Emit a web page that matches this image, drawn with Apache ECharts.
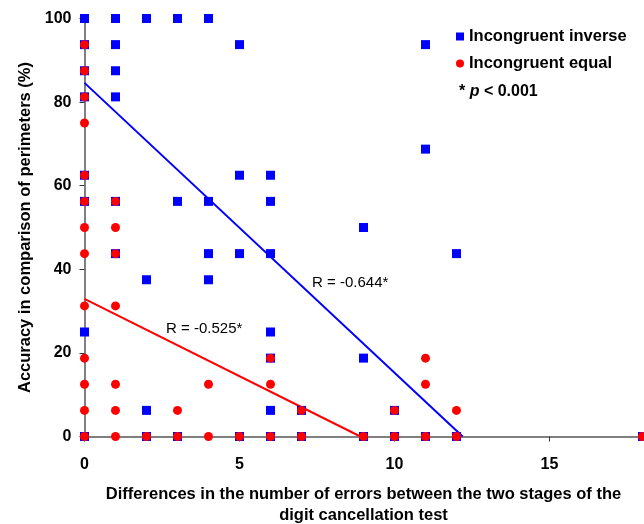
<!DOCTYPE html>
<html>
<head>
<meta charset="utf-8">
<script src="https://cdn.jsdelivr.net/npm/echarts@6/dist/echarts.min.js"></script>
<style>
  html, body { margin: 0; padding: 0; background: #fff; }
  #chart { width: 644px; height: 524px; }
</style>
</head>
<body>
<div id="chart"></div>
<script>
// scatter values: [difference in errors, accuracy %]
const inversePoints = [
  [0, 100], [0, 93.75], [0, 87.5], [0, 81.25], [0, 62.5], [0, 56.25], [0, 25], [0, 0],
  [1, 100], [1, 93.75], [1, 87.5], [1, 81.25], [1, 56.25], [1, 43.75],
  [2, 100], [2, 37.5], [2, 6.25], [2, 0],
  [3, 100], [3, 56.25], [3, 0],
  [4, 100], [4, 56.25], [4, 43.75], [4, 37.5],
  [5, 93.75], [5, 62.5], [5, 43.75], [5, 0],
  [6, 62.5], [6, 56.25], [6, 43.75], [6, 25], [6, 18.75], [6, 6.25], [6, 0],
  [7, 6.25], [7, 0],
  [9, 50], [9, 18.75], [9, 0],
  [10, 6.25], [10, 0],
  [11, 93.75], [11, 68.75], [11, 0],
  [12, 43.75], [12, 0],
  [18, 0]
]
const equalPoints = [
  [0, 93.75], [0, 87.5], [0, 81.25], [0, 75], [0, 62.5], [0, 56.25], [0, 50], [0, 43.75],
  [0, 31.25], [0, 18.75], [0, 12.5], [0, 6.25], [0, 0],
  [1, 56.25], [1, 50], [1, 43.75], [1, 31.25], [1, 12.5], [1, 6.25], [1, 0],
  [2, 0],
  [3, 6.25], [3, 0],
  [4, 12.5], [4, 0],
  [5, 0],
  [6, 18.75], [6, 12.5], [6, 0],
  [7, 6.25], [7, 0],
  [9, 0],
  [10, 6.25], [10, 0],
  [11, 18.75], [11, 12.5], [11, 0],
  [12, 6.25], [12, 0],
  [18, 0]
]
// regression line end points
const inverseFit = [[0, 84.6], [12.2, 0]]
const equalFit = [[0, 32.9], [8.9, 0]]
const inverseR = { text: 'R = -0.644*', at: [7.34, 36.7] }
const equalR = { text: 'R = -0.525*', at: [2.63, 25.7] }

const xTicks = [0, 5, 10, 15]
const font = "'Liberation Sans', Arial, sans-serif"

const rLabel = (r) => ({
  silent: true,
  symbol: 'circle',
  symbolSize: 0,
  label: {
    show: true,
    position: 'right',
    distance: 0,
    formatter: r.text,
    color: '#000',
    fontFamily: font,
    fontSize: 15
  },
  data: [{ coord: r.at }]
})

echarts.init(document.getElementById('chart')).setOption({
  animation: false,
  textStyle: { fontFamily: font },
  grid: { left: 84.5, right: 1.5, top: 18.5, bottom: 87.5, containLabel: false, outerBoundsMode: 'none' },
  legend: {
    data: [
      { name: 'Incongruent inverse', icon: 'rect' },
      { name: 'Incongruent equal', icon: 'circle' }
    ],
    orient: 'vertical',
    left: 451,
    top: 23,
    itemWidth: 8,
    itemHeight: 8,
    itemGap: 10,
    textStyle: { fontFamily: font, fontSize: 16.5, fontWeight: 'bold', color: '#000' }
  },
  graphic: [{
    type: 'text',
    left: 459,
    top: 84,
    style: {
      text: '* {i|p} < 0.001',
      font: 'bold 16px ' + font,
      fill: '#000',
      rich: { i: { fontStyle: 'italic', fontWeight: 'bold', fontSize: 16, fontFamily: font } }
    }
  }],
  xAxis: {
    type: 'value',
    min: 0,
    max: 18,
    interval: 5,
    splitLine: { show: false },
    axisLine: { onZero: false, lineStyle: { color: '#808080', width: 2 } },
    axisTick: { show: true, length: 5, customValues: xTicks, lineStyle: { color: '#333', width: 1 } },
    axisLabel: { customValues: xTicks, margin: 20, color: '#000', fontSize: 16, fontWeight: 'bold', fontFamily: font },
    name: 'Differences in the number of errors between the two stages of the\ndigit cancellation test',
    nameLocation: 'middle',
    nameGap: 47,
    nameTextStyle: { color: '#000', fontSize: 16.5, fontWeight: 'bold', lineHeight: 21, fontFamily: font }
  },
  yAxis: {
    type: 'value',
    min: 0,
    max: 100,
    interval: 20,
    splitLine: { show: false },
    axisLine: { onZero: false, lineStyle: { color: '#808080', width: 2 } },
    axisTick: { show: true, length: 5, lineStyle: { color: '#333', width: 1 } },
    axisLabel: { margin: 13, color: '#000', fontSize: 16, fontWeight: 'bold', fontFamily: font },
    name: 'Accuracy in comparison of perimeters (%)',
    nameLocation: 'middle',
    nameGap: 44,
    nameTextStyle: { color: '#000', fontSize: 16.5, fontWeight: 'bold', fontFamily: font }
  },
  series: [{
    name: 'Incongruent inverse',
    type: 'scatter',
    symbol: 'rect',
    symbolSize: 9,
    clip: false,
    itemStyle: { color: '#0000ff', opacity: 1 },
    data: inversePoints,
    z: 3
  }, {
    name: 'Incongruent equal',
    type: 'scatter',
    symbol: 'circle',
    symbolSize: 9,
    clip: false,
    itemStyle: { color: '#ff0000', opacity: 1 },
    data: equalPoints,
    z: 4
  }, {
    name: 'fit inverse',
    type: 'line',
    showSymbol: false,
    lineStyle: { color: '#0000ff', width: 2 },
    data: inverseFit,
    markPoint: rLabel(inverseR),
    z: 2
  }, {
    name: 'fit equal',
    type: 'line',
    showSymbol: false,
    lineStyle: { color: '#ff0000', width: 2 },
    data: equalFit,
    markPoint: rLabel(equalR),
    z: 2
  }]
})
</script>
</body>
</html>
